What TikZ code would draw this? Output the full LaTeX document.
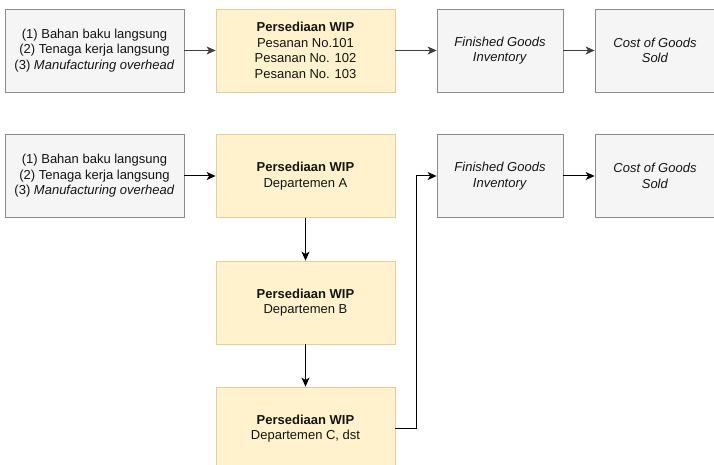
\documentclass[tikz,border=0pt]{standalone}
\usepackage{fontspec}
\setmainfont{Liberation Sans}
\usetikzlibrary{arrows.meta}
\definecolor{gfill}{HTML}{F5F5F5}
\definecolor{gbord}{HTML}{8C8C8C}
\definecolor{yfill}{HTML}{FFF2CC}
\definecolor{ybord}{HTML}{E3CF95}
\definecolor{txt}{HTML}{141414}
\definecolor{arrgray}{HTML}{3F3F3F}
\tikzset{
  base/.style={line width=0.8pt, align=center, inner sep=0pt, text=txt,
    font=\fontsize{13}{15.5}\selectfont, minimum height=83pt},
  graybox/.style={base, draw=gbord, fill=gfill},
  yellowbox/.style={base, draw=ybord, fill=yfill, minimum width=179pt},
  inbox/.style={graybox, minimum width=179pt},
  outbox/.style={graybox, minimum width=126pt},
  arr/.style={-{Stealth[length=9pt,width=8pt,inset=2.5pt]}, line width=1pt},
  toparr/.style={arr, draw=arrgray},
  botarr/.style={arr, draw=black}
}
\begin{document}
\begin{tikzpicture}[x=1pt,y=-1pt]
\clip (0,0) rectangle (714,465);
\fill[white] (0,0) rectangle (714,465);
% top row
\node[inbox] (in1) at (94.5,50.5) {(1) Bahan baku langsung\\(2) Tenaga kerja langsung\\(3) \textit{Manufacturing overhead}};
\node[yellowbox] (wip1) at (305.5,50.5) {\textbf{Persediaan WIP}\\Pesanan No.101\\Pesanan No. 102\\Pesanan No. 103};
\node[outbox] (fg1) at (500,50.5) {\textit{Finished Goods}\\\textit{Inventory}};
\node[graybox, minimum width=120pt] (cogs1) at (655,50.5) {\textit{Cost of Goods}\\\textit{Sold}};
\draw[toparr] (in1) -- (wip1);
\draw[toparr] (wip1) -- (fg1);
\draw[toparr] (fg1) -- (cogs1);
% bottom section
\node[inbox] (in2) at (94.5,176) {(1) Bahan baku langsung\\(2) Tenaga kerja langsung\\(3) \textit{Manufacturing overhead}};
\node[yellowbox] (wipA) at (305.5,176) {\textbf{Persediaan WIP}\\Departemen A};
\node[yellowbox] (wipB) at (305.5,302.5) {\textbf{Persediaan WIP}\\Departemen B};
\node[yellowbox] (wipC) at (305.5,428.5) {\textbf{Persediaan WIP}\\Departemen C, dst};
\node[outbox] (fg2) at (500,176) {\textit{Finished Goods}\\\textit{Inventory}};
\node[graybox, minimum width=120pt] (cogs2) at (655,176) {\textit{Cost of Goods}\\\textit{Sold}};
\coordinate (turn) at (416,0);
\draw[botarr] (in2) -- (wipA);
\draw[botarr] (wipA) -- (wipB);
\draw[botarr] (wipB) -- (wipC);
\draw[botarr] (wipC.east) -| (turn |- fg2.west) -- (fg2.west);
\draw[botarr] (fg2) -- (cogs2);
\end{tikzpicture}
\end{document}
